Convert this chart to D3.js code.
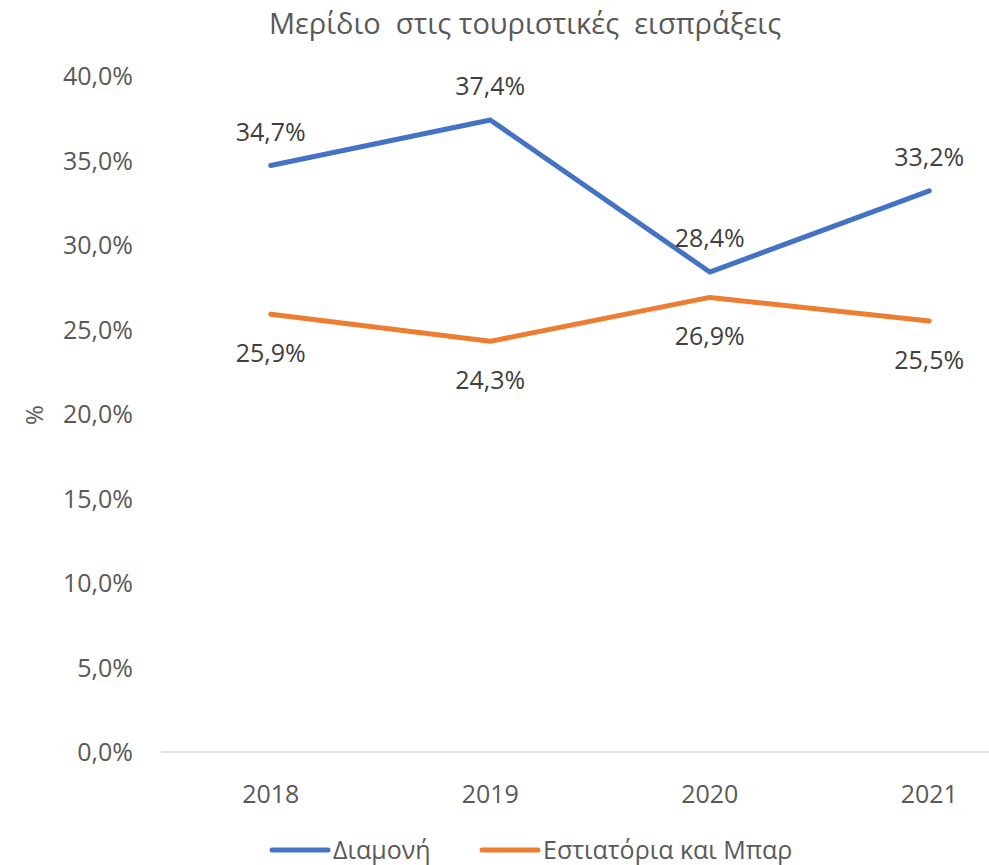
<!DOCTYPE html>
<html>
<head>
<meta charset="utf-8">
<script src="https://cdn.jsdelivr.net/npm/d3@7"></script>
<style>
  body { margin: 0; background: #fff; }
  text { font-family: "Open Sans", "Noto Sans", sans-serif; white-space: pre; }
</style>
</head>
<body>
<div id="chart"></div>
<script>
const years = ["2018", "2019", "2020", "2021"];
const stay = [34.7, 37.4, 28.4, 33.2];
const food = [25.9, 24.3, 26.9, 25.5];
const yTicks = [0, 5, 10, 15, 20, 25, 30, 35, 40];
const seriesNames = ["Διαμονή", "Εστιατόρια και Μπαρ"];

const w = 989, h = 865;
const svg = d3.select("#chart").append("svg")
  .attr("width", w).attr("height", h);

const x = d3.scalePoint().domain(years).range([161, 1039]).padding(0.5);
const y = d3.scaleLinear().domain([0, 40]).range([752, 76]);

const fmt = (v) => v.toFixed(1).replace(".", ",") + "%";

// title
svg.append("text")
  .attr("x", 525).attr("y", 34)
  .attr("text-anchor", "middle")
  .style("font-size", "29px").style("fill", "#595959")
  .text("Μερίδιο  στις τουριστικές  εισπράξεις");

// baseline
svg.append("line")
  .attr("x1", 161).attr("x2", w)
  .attr("y1", y(0)).attr("y2", y(0))
  .style("stroke", "#d9d9d9").style("stroke-width", 1.5);

// y labels
svg.selectAll(".ylab").data(yTicks).enter().append("text")
  .attr("class", "ylab")
  .attr("x", 133).attr("y", (d) => y(d))
  .attr("dy", "0.36em")
  .attr("text-anchor", "end")
  .style("font-size", "25px").style("fill", "#595959")
  .text((d) => fmt(d));

// axis title
svg.append("text")
  .attr("transform", "translate(43," + 415 + ") rotate(-90)")
  .attr("text-anchor", "middle")
  .style("font-size", "24px").style("fill", "#595959")
  .text("%");

// x labels
svg.selectAll(".xlab").data(years).enter().append("text")
  .attr("class", "xlab")
  .attr("x", (d) => x(d)).attr("y", 794)
  .attr("dy", "0.36em")
  .attr("text-anchor", "middle")
  .style("font-size", "25px").style("fill", "#595959")
  .text((d) => d);

const line = d3.line().x((d, i) => x(years[i])).y((d) => y(d));

const series = [
  { vals: stay, color: "#4472C4", off: -34 },
  { vals: food, color: "#ED7D31", off: 39 }
];

series.forEach((s) => {
  svg.append("path")
    .datum(s.vals)
    .attr("d", line)
    .style("fill", "none")
    .style("stroke", s.color)
    .style("stroke-width", 5)
    .style("stroke-linecap", "round")
    .style("stroke-linejoin", "round");

  svg.selectAll(null).data(s.vals).enter().append("text")
    .attr("x", (d, i) => x(years[i]))
    .attr("y", (d) => y(d) + s.off)
    .attr("dy", "0.36em")
    .attr("text-anchor", "middle")
    .style("font-size", "25px").style("fill", "#404040")
    .text((d) => fmt(d));
});

// legend
const legX = [272, 482];
seriesNames.forEach((name, i) => {
  svg.append("line")
    .attr("x1", legX[i]).attr("x2", legX[i] + 56)
    .attr("y1", 850).attr("y2", 850)
    .style("stroke", series[i].color)
    .style("stroke-width", 5)
    .style("stroke-linecap", "round");
  svg.append("text")
    .attr("x", legX[i] + 61).attr("y", 850)
    .attr("dy", "0.36em")
    .style("font-size", "25px").style("fill", "#595959")
    .text(name);
});
</script>
</body>
</html>
